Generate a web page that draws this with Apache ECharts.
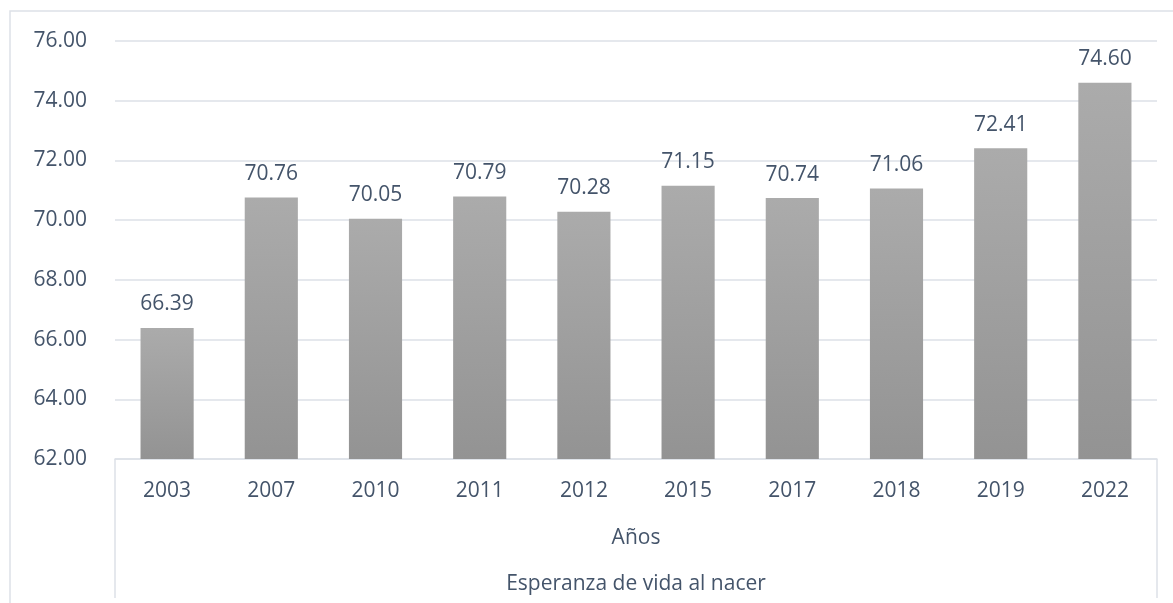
<!DOCTYPE html>
<html>
<head>
<meta charset="utf-8">
<script src="https://cdn.jsdelivr.net/npm/echarts@6/dist/echarts.min.js"></script>
<style>
  html, body { margin: 0; padding: 0; background: #fff; }
  #chart { width: 1173px; height: 603px; }
</style>
</head>
<body>
<div id="chart"></div>
<script>
// datos de la gráfica
const years = ['2003', '2007', '2010', '2011', '2012', '2015', '2017', '2018', '2019', '2022'];
const lifeExpectancy = [66.39, 70.76, 70.05, 70.79, 70.28, 71.15, 70.74, 71.06, 72.41, 74.60];
const groupLabel = ['Años'];
const seriesLabel = ['Esperanza de vida al nacer'];

const textColor = '#44546a';
const lineColor = '#dde1e7';
const font = '"Open Sans", sans-serif';
const fs = 21;

const chart = echarts.init(document.getElementById('chart'));
chart.setOption({
  animation: false,
  backgroundColor: '#fff',
  graphic: [
    {
      type: 'rect',
      shape: { x: 10, y: 11, width: 1300, height: 700 },
      style: { fill: 'none', stroke: lineColor, lineWidth: 1.5 },
      silent: true,
    },
  ],
  grid: { left: 115, right: 16, top: 41, bottom: 144 },
  xAxis: [
    {
      type: 'category',
      data: years,
      axisLine: { show: true, lineStyle: { color: lineColor, width: 1.5 } },
      axisTick: { show: false },
      axisLabel: { color: textColor, fontSize: fs, fontFamily: font, margin: 22 },
    },
    {
      type: 'category',
      data: groupLabel,
      position: 'bottom',
      axisLine: { show: false },
      axisTick: { show: true, length: 139, lineStyle: { color: lineColor, width: 1.5 } },
      axisLabel: { color: textColor, fontSize: fs, fontFamily: font, margin: 69 },
    },
    {
      type: 'category',
      data: seriesLabel,
      position: 'bottom',
      axisLine: { show: false },
      axisTick: { show: false },
      axisLabel: { color: textColor, fontSize: fs, fontFamily: font, margin: 115 },
    },
  ],
  yAxis: {
    type: 'value',
    min: 62,
    max: 76,
    interval: 2,
    axisLine: { show: false },
    axisTick: { show: false },
    axisLabel: {
      color: textColor,
      fontSize: fs,
      fontFamily: font,
      margin: 28,
      formatter: (v) => v.toFixed(2),
    },
    splitLine: { lineStyle: { color: lineColor, width: 1.5 } },
  },
  series: [
    {
      type: 'bar',
      data: lifeExpectancy,
      barWidth: '51%',
      itemStyle: {
        color: new echarts.graphic.LinearGradient(0, 0, 0, 1, [
          { offset: 0, color: '#ababab' },
          { offset: 1, color: '#939393' },
        ]),
      },
      label: {
        show: true,
        position: 'top',
        distance: 13,
        color: textColor,
        fontSize: fs,
        fontFamily: font,
        formatter: (p) => p.value.toFixed(2),
      },
    },
  ],
});
</script>
</body>
</html>
